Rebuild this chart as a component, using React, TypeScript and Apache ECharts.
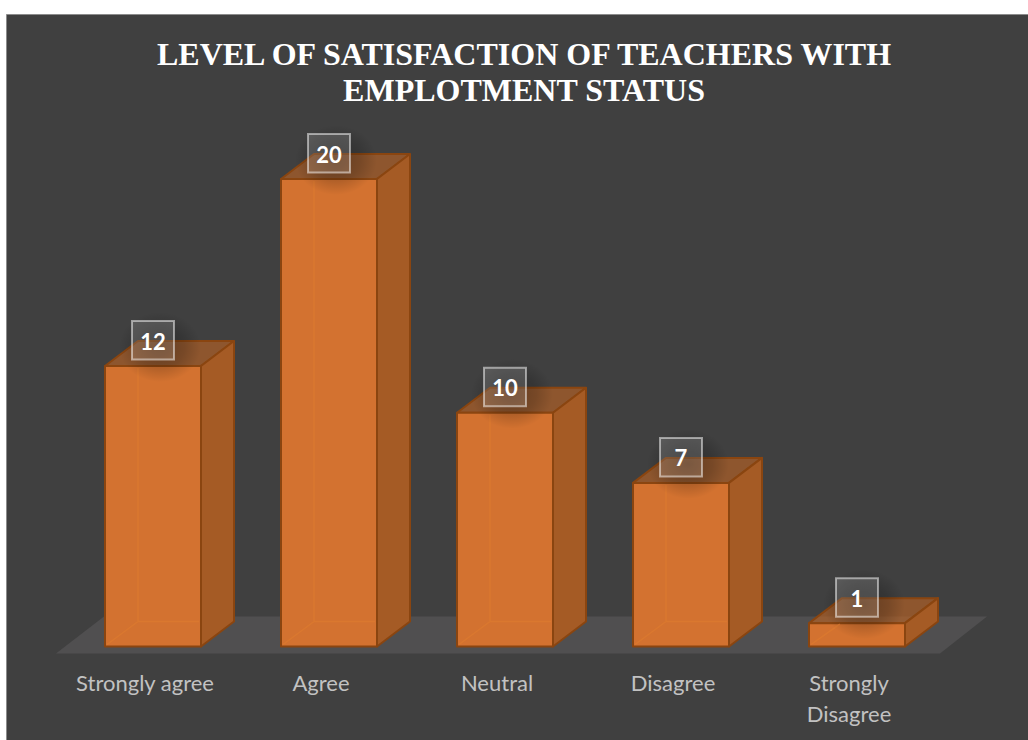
import React, { useEffect, useRef } from "react";
import * as echarts from "echarts";

const categories = ["Strongly agree", "Agree", "Neutral", "Disagree", "Strongly\nDisagree"];
const values = [12, 20, 10, 7, 1];
const titleText = "LEVEL OF SATISFACTION OF TEACHERS WITH\nEMPLOTMENT STATUS";

const BAR_W = 96;
const BAR_SHIFT = 8;
const DX = 33;
const DY = 25;
const EDGE = "#8a4510";

function renderFloor(params: any, api: any) {
  const cs = params.coordSys;
  const y0 = api.coord([0, 0])[1];
  const front = y0 + 7;
  const back = y0 - 30;
  return {
    type: "polygon",
    silent: true,
    shape: {
      points: [
        [cs.x - 1, front],
        [cs.x + cs.width + 3, front],
        [cs.x + cs.width + 50, back],
        [cs.x + 47, back],
      ],
    },
    style: { fill: "#504f50" },
  };
}

function renderCube(_params: any, api: any) {
  const top = api.coord([api.value(0), api.value(1)]);
  const base = api.coord([api.value(0), 0]);
  const l = top[0] + BAR_SHIFT - BAR_W / 2;
  const r = l + BAR_W;
  const t = top[1];
  const b = base[1];
  const stroke = { stroke: EDGE, lineWidth: 2, lineJoin: "round" };
  const cx = l + BAR_W / 2;
  const h = b - t;
  const tall = h > DY;
  const inner = "#da782f";
  const diagEnd = tall ? [l + DX, b - DY] : [l + (DX * h) / DY, t + 1];
  const innerLines: any[] = [
    {
      type: "line",
      shape: { x1: l + 2, y1: b - 2, x2: diagEnd[0], y2: diagEnd[1] },
      style: { stroke: inner, lineWidth: 1.5 },
    },
  ];
  if (tall) {
    innerLines.push(
      {
        type: "line",
        shape: { x1: l + DX, y1: b - DY, x2: r - 2, y2: b - DY },
        style: { stroke: inner, lineWidth: 1.5 },
      },
      {
        type: "line",
        shape: { x1: l + DX, y1: t + 2, x2: l + DX, y2: b - DY },
        style: { stroke: inner, lineWidth: 1.5 },
      }
    );
  }
  return {
    type: "group",
    children: [
      {
        type: "polygon",
        shape: { points: [[l, t], [r, t], [r + DX, t - DY], [l + DX, t - DY]] },
        style: { fill: "rgba(190,100,35,0.62)", ...stroke },
      },
      {
        type: "polygon",
        shape: { points: [[r, t], [r + DX, t - DY], [r + DX, b - DY], [r, b]] },
        style: { fill: "#a55b25", ...stroke },
      },
      {
        type: "rect",
        shape: { x: l, y: t, width: BAR_W, height: h },
        style: { fill: "#d37230", ...stroke },
      },
      ...innerLines,
      {
        type: "rect",
        silent: true,
        shape: { x: cx - 34, y: t - 54, width: 82, height: 70 },
        style: {
          fill: {
            type: "radial",
            x: 0.5,
            y: 0.5,
            r: 0.5,
            colorStops: [
              { offset: 0, color: "rgba(0,0,0,0.3)" },
              { offset: 0.6, color: "rgba(0,0,0,0.16)" },
              { offset: 1, color: "rgba(0,0,0,0)" },
            ],
          },
        },
      },
      {
        type: "rect",
        shape: { x: cx - 21, y: t - 45, width: 42, height: 38.5 },
        style: {
          fill: "rgba(255,255,255,0.14)",
          stroke: "rgba(255,255,255,0.5)",
          lineWidth: 2,
        },
      },
      {
        type: "text",
        style: {
          text: String(api.value(1)),
          x: cx,
          y: t - 25,
          align: "center",
          verticalAlign: "middle",
          fill: "#ffffff",
          font: 'bold 22px Lato, "Open Sans", sans-serif',
        },
      },
    ],
  };
}

export default function App() {
  const ref = useRef<HTMLDivElement>(null);
  useEffect(() => {
    const chart = echarts.init(ref.current!, undefined, { renderer: "svg" });
    chart.setOption({
      animation: false,
      backgroundColor: "#ffffff",
      title: {
        text: titleText,
        left: 519,
        top: 31,
        textAlign: "center",
        textStyle: {
          color: "#ffffff",
          fontFamily: '"Liberation Serif", serif',
          fontWeight: "bold",
          fontSize: 32,
          lineHeight: 36,
        },
      },
      graphic: [
        {
          type: "rect",
          z: -10,
          silent: true,
          shape: { x: 6.5, y: 14.5, width: 1030, height: 735 },
          style: { fill: "#404040", stroke: "#8c8c8c", lineWidth: 1 },
        },
      ],
      grid: { left: 57, right: 91, top: 179, bottom: 93.5 },
      xAxis: {
        type: "category",
        data: categories,
        axisLine: { show: false },
        axisTick: { show: false },
        axisLabel: {
          color: "#c2c2c2",
          fontFamily: 'Lato, "Open Sans", sans-serif',
          fontSize: 22,
          lineHeight: 31,
          margin: 20,
          interval: 0,
        },
      },
      yAxis: { type: "value", min: 0, max: 20, show: false, splitLine: { show: false } },
      series: [
        { type: "custom", silent: true, data: [[0, 0]], renderItem: renderFloor, z: 1 },
        {
          type: "custom",
          silent: true,
          encode: { x: 0, y: 1 },
          data: values.map((v, i) => [i, v]),
          renderItem: renderCube,
          z: 2,
        },
      ],
    });
    return () => chart.dispose();
  }, []);
  return <div ref={ref} style={{ position: "absolute", left: 0, top: 0, width: 1028, height: 740 }} />;
}
